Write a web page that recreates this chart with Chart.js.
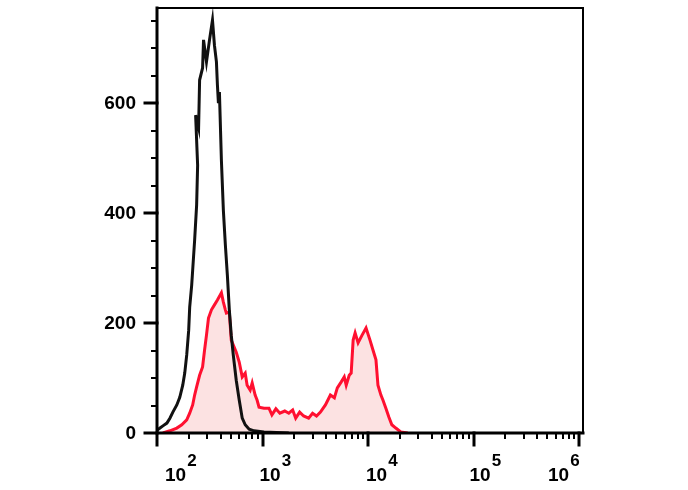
<!DOCTYPE html>
<html>
<head>
<meta charset="utf-8">
<script src="https://cdn.jsdelivr.net/npm/chart.js@4/dist/chart.umd.min.js"></script>
<style>
    html, body { margin: 0; padding: 0; background: #fff; }
    canvas { display: block; }
</style>
</head>
<body>
<canvas id="histChart" width="688" height="490"></canvas>
<script>
// control (black) histogram
var controlX = [100, 106.7, 113.8, 124.1, 132.5, 141.4, 154.1, 164.4, 175.4, 183.2, 191.3, 199.7, 204.1, 213.2, 217.8, 227.4, 237.5, 242.7, 232.3, 247.9, 253.4, 270.4, 276.1, 294.4, 314.6, 335.6, 350.4, 365.8, 373.8, 382, 390.5, 407.7, 425.6, 444.6, 464.4, 484.6, 505.6, 528.2, 563.6, 601.5, 642.3, 685.5, 746.8, 832.5, 1033, 1774];
var controlY = [5, 9, 13, 18, 27, 38, 51, 65, 87, 109, 142, 187, 229, 269, 296, 351, 415, 487, 578, 555, 642, 664, 715, 675, 715, 751, 705, 675, 633, 600, 620, 496, 405, 342, 287, 224, 178, 142, 96, 60, 27, 15, 7, 4, 2, 0];

// stained (red) histogram
var stainedX = [113.8, 132.5, 154.1, 171.7, 191.3, 204.1, 217.8, 227.4, 237.5, 253.4, 270.4, 282.4, 294.4, 307.6, 328.2, 350.4, 373.8, 407.7, 425.6, 444.6, 454.4, 484.6, 505.6, 539.7, 563.6, 601.5, 642.3, 685.5, 714.8, 763.8, 798, 851, 888, 927, 1033, 1151, 1228, 1339, 1460, 1626, 1774, 1932, 2063, 2249, 2453, 2735, 2981, 3251, 3541, 3946, 4399, 4797, 5117, 5576, 5952, 6212, 6634, 6923, 7229, 7548, 8052, 8783, 9576, 10440, 11140, 11890, 12420, 13250, 13840, 14760, 15750, 16810, 18330, 20420, 23770];
var stainedY = [0, 4, 9, 15, 24, 36, 51, 69, 84, 105, 120, 151, 178, 209, 224, 233, 242, 255, 238, 224, 218, 220, 169, 156, 147, 129, 102, 109, 87, 78, 91, 69, 60, 47, 45, 45, 33, 44, 36, 40, 36, 42, 27, 38, 31, 27, 36, 31, 38, 51, 69, 64, 82, 93, 102, 87, 105, 109, 169, 182, 164, 178, 191, 169, 151, 133, 87, 69, 60, 45, 29, 15, 9, 2, 0];

var xDecades = [100, 1000, 10000, 100000, 1000000];
var xExponents = ["2", "3", "4", "5", "6"];
var yMajorTicks = [0, 200, 400, 600];
var yMinorStep = 50;
var yMax = 773;
var xMax = 1090000;

function toPoints(xs, ys) {
    return xs.map(function(x, i) { return { x: x, y: ys[i] }; });
}

var fontFamily = '"Liberation Sans", Arial, sans-serif';
var xLabelShift = [8, -3, -2, -4, -31];

// axes, frame, ticks and labels drawn by hand
var axesPlugin = {
    id: 'axesPlugin',
    afterDatasetsDraw: function(chart) {
        var ctx = chart.ctx;
        var a = chart.chartArea;
        var xs = chart.scales.x, ys = chart.scales.y;
        ctx.save();
        ctx.strokeStyle = '#000';
        ctx.lineCap = 'square';

        // top + right border
        ctx.lineWidth = 2;
        ctx.beginPath();
        ctx.moveTo(a.left, a.top);
        ctx.lineTo(a.right, a.top);
        ctx.lineTo(a.right, a.bottom);
        ctx.stroke();

        // left + bottom axis
        ctx.lineWidth = 3;
        ctx.beginPath();
        ctx.moveTo(a.left, a.top);
        ctx.lineTo(a.left, a.bottom);
        ctx.lineTo(a.right, a.bottom);
        ctx.stroke();

        // y ticks
        ctx.lineWidth = 2;
        for (var v = 0; v <= yMax; v += yMinorStep) {
            var py = Math.round(ys.getPixelForValue(v));
            var major = yMajorTicks.indexOf(v) >= 0;
            ctx.lineWidth = major ? 3 : 2;
            ctx.beginPath();
            ctx.moveTo(a.left - (major ? 12 : 5), py);
            ctx.lineTo(a.left, py);
            ctx.stroke();
        }
        ctx.fillStyle = '#000';
        ctx.font = 'bold 19px ' + fontFamily;
        ctx.textAlign = 'right';
        ctx.textBaseline = 'middle';
        yMajorTicks.forEach(function(v) {
            ctx.fillText(String(v), 136, ys.getPixelForValue(v) + 1);
        });

        // x ticks
        for (var d = 0; d < xDecades.length; d++) {
            for (var m = 1; m <= 9; m++) {
                var val = xDecades[d] * m;
                if (val > xMax) break;
                var px = Math.round(xs.getPixelForValue(val));
                ctx.lineWidth = m === 1 ? 3 : 2;
                ctx.beginPath();
                ctx.moveTo(px, a.bottom);
                ctx.lineTo(px, a.bottom + (m === 1 ? 12 : 5));
                ctx.stroke();
            }
        }

        // x labels 10^n
        ctx.textAlign = 'left';
        ctx.textBaseline = 'alphabetic';
        xDecades.forEach(function(val, i) {
            var px = xs.getPixelForValue(val) + xLabelShift[i];
            ctx.font = 'bold 19px ' + fontFamily;
            ctx.fillText('10', px, 481);
            var w = ctx.measureText('10').width;
            ctx.font = 'bold 17px ' + fontFamily;
            ctx.fillText(xExponents[i], px + w + 1, 466);
        });
        ctx.restore();
    }
};

var ctx = document.getElementById('histChart').getContext('2d');
var chart = new Chart(ctx, {
    type: 'line',
    data: {
        datasets: [{
            label: 'Control',
            data: toPoints(controlX, controlY),
            borderColor: '#111',
            borderWidth: 3,
            fill: false,
            order: 0
        }, {
            label: 'Stained',
            data: toPoints(stainedX, stainedY),
            borderColor: '#ff1030',
            backgroundColor: 'rgba(252, 226, 226, 1)',
            borderWidth: 3,
            fill: 'origin',
            order: 1
        }]
    },
    options: {
        responsive: false,
        animation: false,
        layout: { padding: { left: 157, top: 8, right: 105, bottom: 57 } },
        elements: { point: { radius: 0 }, line: { tension: 0, borderJoinStyle: 'miter' } },
        plugins: { legend: { display: false }, tooltip: { enabled: false } },
        scales: {
            x: { type: 'logarithmic', min: 100, max: xMax, display: false },
            y: { type: 'linear', min: 0, max: yMax, display: false }
        }
    },
    plugins: [axesPlugin]
});
</script>
</body>
</html>
